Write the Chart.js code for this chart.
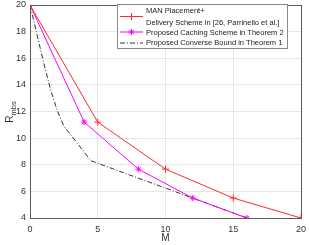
<!DOCTYPE html>
<html>
<head>
<meta charset="utf-8">
<script src="https://cdn.jsdelivr.net/npm/chart.js@4/dist/chart.umd.min.js"></script>
<style>
  html, body { margin: 0; padding: 0; background: #fff; }
  #wrap { width: 309px; height: 245px; }
</style>
</head>
<body>
<div id="wrap"><canvas id="chart"></canvas></div>
<script>
// values
const manM = [0, 5, 10, 15, 20];
const manR = [20, 11.2, 7.67, 5.5, 4];
const propM = [0, 4, 8, 12, 16];
const propR = [20, 11.2, 7.67, 5.5, 4];
const convM = [0, 1, 1.5, 2, 2.5, 4.5, 12, 16];
const convR = [20, 15.7, 13.7, 12.1, 10.9, 8.3, 5.5, 4];

const xTicks = [0, 5, 10, 15, 20];
const yTicks = [4, 6, 8, 10, 12, 14, 16, 18, 20];

const legendLabels = [
  ["MAN Placement+", "Delivery Scheme in [26, Parrinello et al.]"],
  ["Proposed Caching Scheme in Theorem 2"],
  ["Proposed Converse Bound in Theorem 1"],
];

const FONT = "'Liberation Sans', Arial, sans-serif";

function pts(xs, ys) {
  return xs.map((x, i) => ({ x: x, y: ys[i] }));
}

// no extra room for overhanging tick labels
function noPad(s) {
  s.paddingTop = 0;
  s.paddingBottom = 0;
  s.paddingLeft = 0;
  s.paddingRight = 0;
}

// box, titles and legend drawn in MATLAB style
const matlabDecor = {
  id: "matlabDecor",
  afterDraw(chart) {
    const ctx = chart.ctx;
    const a = chart.chartArea;
    ctx.save();

    // axes box
    ctx.strokeStyle = "#5a5a5a";
    ctx.lineWidth = 1;
    ctx.strokeRect(Math.round(a.left) + 0.5, Math.round(a.top) + 0.5,
      Math.round(a.right - a.left), Math.round(a.bottom - a.top));

    // x title
    ctx.fillStyle = "#333";
    ctx.font = "10px " + FONT;
    ctx.textAlign = "center";
    ctx.textBaseline = "middle";
    ctx.fillText("M", (a.left + a.right) / 2, 238);

    // y title with subscript
    ctx.save();
    ctx.translate(10, 112);
    ctx.rotate(-Math.PI / 2);
    ctx.textAlign = "left";
    ctx.textBaseline = "middle";
    ctx.font = "10px " + FONT;
    const rw = ctx.measureText("R").width;
    const sub = "mbs";
    ctx.font = "7.5px " + FONT;
    const sw = ctx.measureText(sub).width;
    const x0 = -(rw + sw) / 2;
    ctx.font = "10px " + FONT;
    ctx.fillText("R", x0, 0);
    ctx.font = "7.5px " + FONT;
    ctx.fillText(sub, x0 + rw, 4);
    ctx.restore();

    // legend
    const lx = 117, ly = 4, lw = 170, lh = 44;
    ctx.fillStyle = "#fff";
    ctx.fillRect(lx, ly, lw, lh);
    ctx.strokeStyle = "#8a8a8a";
    ctx.strokeRect(lx + 0.5, ly + 0.5, lw, lh);

    const rows = [16.5, 32, 43];
    const textRows = [[11, 22.5], [32.5], [43]];
    chart.data.datasets.forEach((ds, i) => {
      const y = rows[i];
      ctx.strokeStyle = ds.borderColor;
      ctx.lineWidth = 1;
      ctx.setLineDash(ds.borderDash || []);
      ctx.beginPath();
      ctx.moveTo(120, y);
      ctx.lineTo(143, y);
      ctx.stroke();
      ctx.setLineDash([]);
      if (ds.pointStyle && ds.pointRadius > 0) {
        Chart.helpers.drawPoint(ctx, {
          pointStyle: ds.pointStyle,
          radius: ds.pointRadius,
          borderWidth: 1,
        }, 131.5, y);
      }
      ctx.fillStyle = "#222";
      ctx.font = "7.5px " + FONT;
      ctx.textAlign = "left";
      ctx.textBaseline = "middle";
      legendLabels[i].forEach((t, j) => ctx.fillText(t, 146, textRows[i][j]));
    });

    ctx.restore();
  },
};

new Chart(document.getElementById("chart"), {
  type: "line",
  data: {
    datasets: [
      {
        label: legendLabels[0].join(" "),
        data: pts(manM, manR),
        borderColor: "#ff2a2a",
        backgroundColor: "#ff2a2a",
        borderWidth: 1,
        pointStyle: "cross",
        pointRadius: 3.5,
        pointBorderWidth: 1,
        fill: false,
      },
      {
        label: legendLabels[1][0],
        data: pts(propM, propR),
        borderColor: "#ff00ff",
        backgroundColor: "#ff00ff",
        borderWidth: 1,
        pointStyle: "star",
        pointRadius: 3,
        pointBorderWidth: 1,
        fill: false,
      },
      {
        label: legendLabels[2][0],
        data: pts(convM, convR),
        borderColor: "#333333",
        backgroundColor: "#333333",
        borderWidth: 1,
        borderDash: [5, 2, 1, 2],
        pointRadius: 0,
        fill: false,
      },
    ],
  },
  options: {
    responsive: true,
    maintainAspectRatio: false,
    animation: false,
    layout: { padding: { top: 4, right: 8, left: 0, bottom: 0 } },
    plugins: {
      legend: { display: false },
      tooltip: { enabled: false },
    },
    scales: {
      x: {
        type: "linear",
        min: 0,
        max: 20,
        afterBuildTicks: (s) => { s.ticks = xTicks.map((v) => ({ value: v })); },
        afterFit: (s) => { s.height = 27; noPad(s); },
        grid: { color: "#e6e6e6", drawTicks: false },
        border: { display: false },
        ticks: { padding: 6, color: "#333", font: { size: 9, family: FONT } },
      },
      y: {
        type: "linear",
        min: 4,
        max: 20,
        afterBuildTicks: (s) => { s.ticks = yTicks.map((v) => ({ value: v })); },
        afterFit: (s) => { s.width = 30; noPad(s); },
        grid: { color: "#e6e6e6", drawTicks: false },
        border: { display: false },
        ticks: { padding: 4, color: "#333", font: { size: 9, family: FONT } },
      },
    },
  },
  plugins: [matlabDecor],
});
</script>
</body>
</html>
